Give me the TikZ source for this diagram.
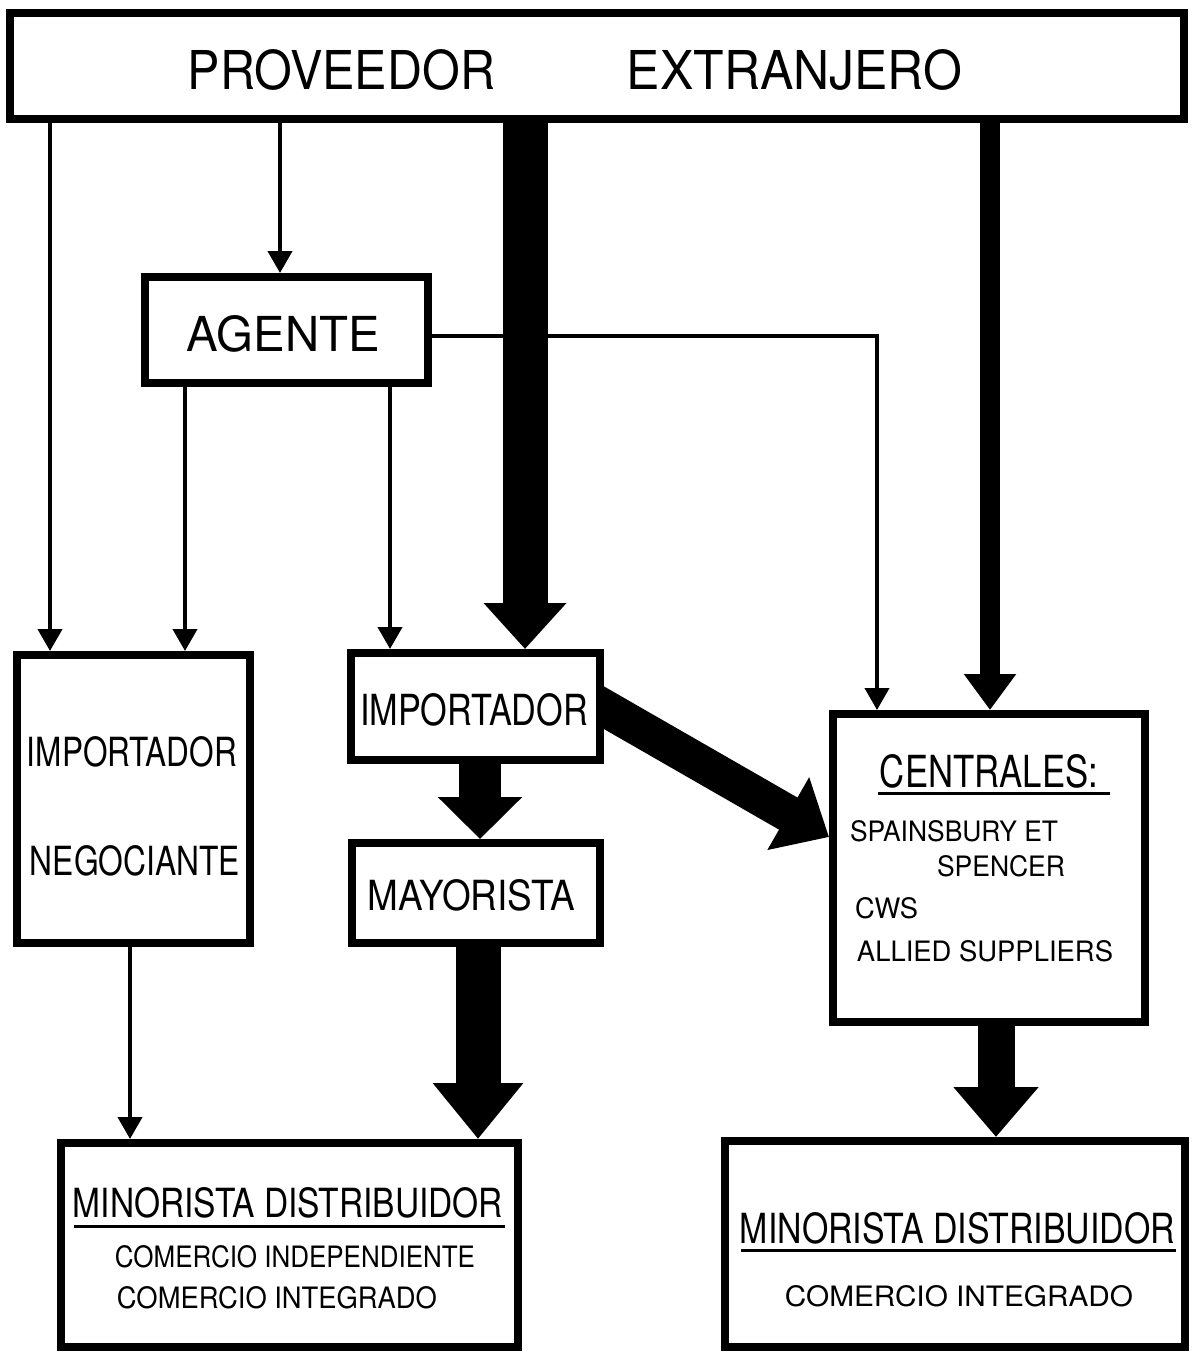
\documentclass[tikz,border=0pt]{standalone}
\usepackage{fontspec}
\setmainfont{TeX Gyre Heros}
\usepackage{graphicx}
\usetikzlibrary{arrows.meta}
\pgfdeclarelayer{background}
\pgfsetlayers{background,main}
% text squeezed to a given width and cap height (in pt)
\newcommand{\fitlabel}[3]{\resizebox{#1pt}{#2pt}{#3}}

\begin{document}
\begin{tikzpicture}[x=1pt,y=-1pt,
  box/.style={draw, line width=8pt, fill=white, inner sep=0pt},
  txt/.style={inner sep=0pt, anchor=center},
  flowline/.style={line width=4pt, -{Triangle[width=24pt,length=22pt]}},
  bigflow/.style n args={3}{line width=#1pt, -{Triangle[width=#2pt,length=#3pt]}},
  rule/.style={line width=3pt}]
\useasboundingbox (0,0) rectangle (1191,1354);

% ---- boxes ----
\node[box, minimum width=1174pt, minimum height=106pt] (supplier) at (597,66) {};
\node[box, minimum width=283pt, minimum height=106pt] (agent) at (286.5,330) {};
\node[box, minimum width=233pt, minimum height=288pt] (impneg) at (133.5,799) {};
\node[box, minimum width=249pt, minimum height=107pt] (importer) at (475.5,706.5) {};
\node[box, minimum width=248pt, minimum height=100pt] (wholesaler) at (476,893) {};
\node[box, minimum width=312pt, minimum height=308pt] (central) at (989,868) {};
\node[box, minimum width=457pt, minimum height=204pt] (retailL) at (289.5,1245) {};
\node[box, minimum width=460pt, minimum height=206pt] (retailR) at (955,1244) {};

% ---- texts ----
\node[txt] (tProv) at (341.5,70) {\fitlabel{307}{40}{PROVEEDOR}};
\node[txt] (tExtr) at (794.5,70) {\fitlabel{335}{40}{EXTRANJERO}};
\node[txt] (tAgent) at (283.5,334) {\fitlabel{193}{36}{AGENTE}};
\node[txt] (tImpL) at (132,752) {\fitlabel{210}{30}{IMPORTADOR}};
\node[txt] (tNeg) at (135,861) {\fitlabel{210}{30}{NEGOCIANTE}};
\node[txt] (tImpM) at (474,710) {\fitlabel{228}{32}{IMPORTADOR}};
\node[txt] (tMay) at (471.5,895) {\fitlabel{207}{31}{MAYORISTA}};
\node[txt] (tCent) at (989,771) {\fitlabel{218}{33}{CENTRALES:}};
\node[txt] (tSpa) at (954,831.5) {\fitlabel{208}{21}{SPAINSBURY ET}};
\node[txt] (tSpe) at (1001,866.5) {\fitlabel{128}{21}{SPENCER}};
\node[txt] (tCws) at (886.5,908.5) {\fitlabel{63}{21}{CWS}};
\node[txt] (tAll) at (985,951.5) {\fitlabel{256}{21}{ALLIED SUPPLIERS}};
\node[txt] (tMinL) at (288,1202.5) {\fitlabel{430}{30}{MINORISTA DISTRIBUIDOR}};
\node[txt] (tIndL) at (295,1257) {\fitlabel{360}{22}{COMERCIO INDEPENDIENTE}};
\node[txt] (tIntL) at (277,1298) {\fitlabel{320}{22}{COMERCIO INTEGRADO}};
\node[txt] (tMinR) at (957.5,1228.5) {\fitlabel{435}{31}{MINORISTA DISTRIBUIDOR}};
\node[txt] (tIntR) at (959,1296.5) {\fitlabel{348}{21}{COMERCIO INTEGRADO}};

% underlines of the headings
\draw[rule] (878,793) -- (1110,793);
\draw[rule] (74,1226) -- (505,1226);
\draw[rule] (741,1250) -- (1176,1250);

% ---- columns of the connectors ----
\coordinate (xa) at (50,0);
\coordinate (xb) at (280,0);
\coordinate (xc) at (525,0);
\coordinate (xd) at (990,0);
\coordinate (xe) at (185,0);
\coordinate (xf) at (390,0);
\coordinate (xg) at (877,0);
\coordinate (xh) at (130,0);
\coordinate (xi) at (480,0);
\coordinate (xj) at (478,0);
\coordinate (xk) at (996,0);

% ---- thin connectors ----
\draw[flowline] (supplier.south -| xa) -- (impneg.north -| xa);
\draw[flowline] (supplier.south -| xb) -- (agent.north -| xb);
\draw[flowline] (agent.south -| xe) -- (impneg.north -| xe);
\draw[flowline] (agent.south -| xf) -- (importer.north -| xf);
\draw[flowline] ([yshift=-6pt]agent.east) -| (central.north -| xg);
\draw[flowline] (impneg.south -| xh) -- (retailL.north -| xh);

% ---- heavy connectors ----
\draw[bigflow={45}{80}{46}] (supplier.south -| xc) -- (importer.north -| xc);
\draw[bigflow={20}{50}{36}] (supplier.south -| xd) -- (central.north -| xd);
\draw[bigflow={42}{82}{42}] (importer.south -| xi) -- (wholesaler.north -| xi);
\draw[bigflow={45}{87}{56}] (wholesaler.south -| xj) -- (retailL.north -| xj);
\draw[bigflow={37}{82}{50}] (central.south -| xk) -- (retailR.north -| xk);
\begin{pgfonlayer}{background}
\draw[bigflow={37}{81}{47}] ([xshift=-30pt,yshift=16pt]importer.east) -- ([yshift=31pt]central.west);
\end{pgfonlayer}
\end{tikzpicture}
\end{document}
